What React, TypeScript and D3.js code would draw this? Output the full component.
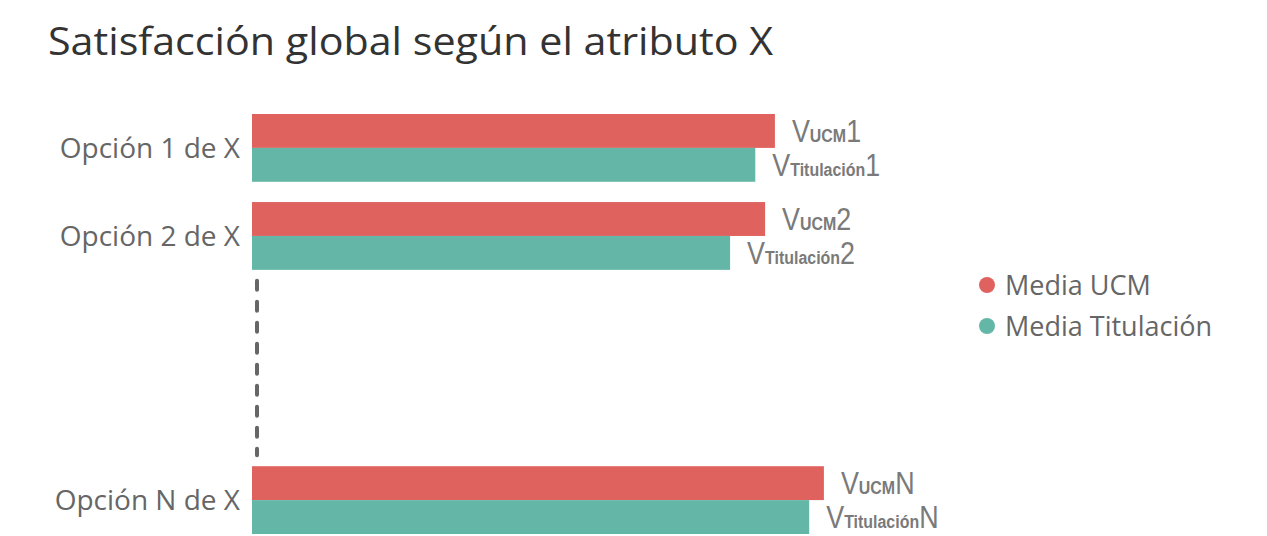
import React from 'react';
import * as d3 from 'd3';

// rows of the chart; the two gap rows hold the dashed "..." separator
const rowKeys = ['Opción 1 de X', 'Opción 2 de X', 'gap-a', 'gap-b', 'Opción N de X'];
const categories = ['Opción 1 de X', 'Opción 2 de X', 'Opción N de X'];
const ucmValues = [7.47, 7.33, 8.17];
const titulacionValues = [7.19, 6.83, 7.96];
const labelSuffixes = ['1', '2', 'N'];
const seriesNames = ['Media UCM', 'Media Titulación'];
const seriesSubs = ['UCM', 'Titulación'];
const colors = ['#DF625F', '#64B7A6'];

const W = 1267;
const H = 536;

const App = () => {
  const x = d3.scaleLinear().domain([0, 10]).range([252, 952]);
  const y = d3.scaleBand().domain(rowKeys).range([114, 534]).paddingInner(0.23).paddingOuter(0);
  const inner = d3.scaleBand().domain(seriesNames).range([0, y.bandwidth()]);

  const labelFont = "'Liberation Sans', 'DejaVu Sans', sans-serif";
  const uiFont = "'Open Sans', 'Noto Sans', sans-serif";

  const dashTop = (y('Opción 2 de X') as number) + y.bandwidth() + 11;
  const dashBottom = (y('Opción N de X') as number) - 11;

  return (
    <svg width={W} height={H} style={{ position: 'absolute', left: 0, top: 0 }}>
      <rect width={W} height={H} fill="#fff" />
      <text x={48} y={55} fontFamily={uiFont} fontSize={38} fill="#333" textLength={725} lengthAdjust="spacingAndGlyphs">
        Satisfacción global según el atributo X
      </text>

      {categories.map((cat, i) => {
        const y0 = y(cat) as number;
        const vals = [ucmValues[i], titulacionValues[i]];
        return (
          <g key={cat}>
            <text
              x={240}
              y={y0 + y.bandwidth() / 2 + 10}
              textAnchor="end"
              fontFamily={uiFont}
              fontSize={28}
              fill="#666"
            >
              {cat}
            </text>
            {vals.map((v, j) => {
              const by = y0 + (inner(seriesNames[j]) as number);
              const tx = x(v) + 17;
              const ty = by + inner.bandwidth() / 2 + 11;
              return (
                <g key={j}>
                  <rect x={x(0)} y={by} width={x(v) - x(0)} height={inner.bandwidth()} fill={colors[j]} />
                  <text transform={`translate(${tx},${ty}) scale(0.84,1)`} fontFamily={labelFont} fill="#7a7a7a">
                    <tspan fontSize={32}>V</tspan>
                    <tspan fontSize={19} fontWeight="bold">{seriesSubs[j]}</tspan>
                    <tspan fontSize={32}>{labelSuffixes[i]}</tspan>
                  </text>
                </g>
              );
            })}
          </g>
        );
      })}

      <line
        x1={257}
        x2={257}
        y1={dashTop}
        y2={dashBottom}
        stroke="#666"
        strokeWidth={4}
        strokeDasharray="9 12"
        strokeLinecap="round"
      />

      {seriesNames.map((name, j) => (
        <g key={name} transform={`translate(987, ${285 + j * 41})`}>
          <circle r={8} fill={colors[j]} />
          <text x={18} y={10} fontFamily={uiFont} fontSize={27} fill="#666">
            {name}
          </text>
        </g>
      ))}
    </svg>
  );
};

export default App;
